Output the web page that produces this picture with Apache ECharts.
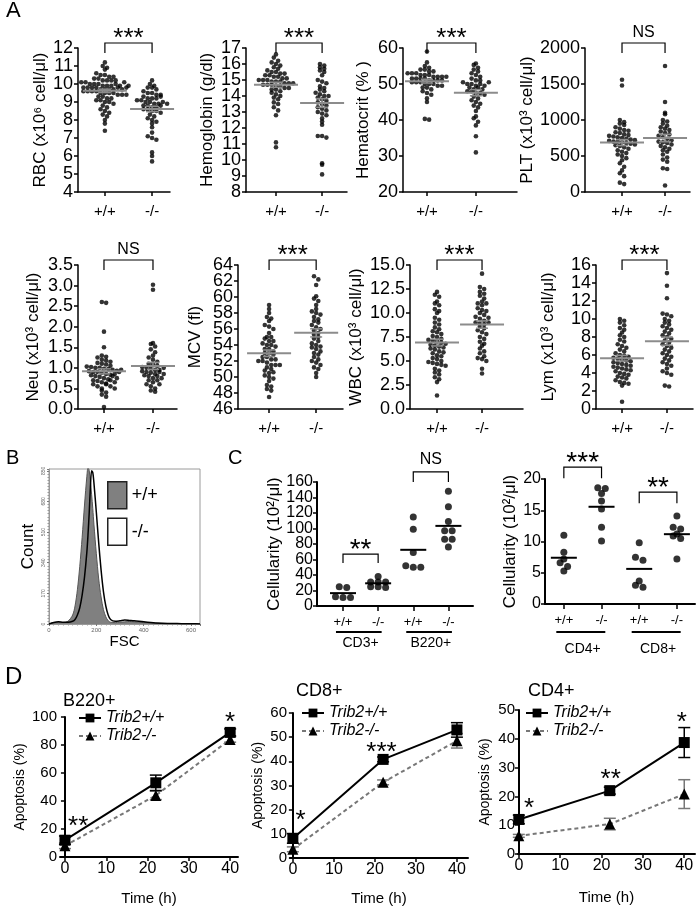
<!DOCTYPE html>
<html>
<head>
<meta charset="utf-8">
<title>Trib2 blood and lymphocyte parameters</title>
<script src="https://cdn.jsdelivr.net/npm/echarts@6/dist/echarts.min.js"></script>
<style>
  html, body { margin: 0; padding: 0; background: #fff; }
  #chart { width: 700px; height: 907px; }
</style>
</head>
<body>
<div id="chart"></div>
<script>
const FONT = '"Liberation Sans", Arial, Helvetica, sans-serif';

// ---------- A: blood counts, one value per mouse ----------
const genotypes = ['+/+', '-/-'];
const rbcWT = [11.2, 11.0, 10.9, 10.8, 10.6, 10.5, 10.5, 10.4, 10.4, 10.3, 10.3, 10.2, 10.2, 10.2, 10.1, 10.1, 10.0, 10.0, 10.0, 9.9, 9.9, 9.9, 9.8, 9.8, 9.8, 9.8, 9.7, 9.7, 9.7, 9.7, 9.6, 9.6, 9.6, 9.6, 9.5, 9.5, 9.5, 9.5, 9.4, 9.4, 9.4, 9.3, 9.3, 9.2, 9.2, 9.1, 9.1, 9.0, 9.0, 8.9, 8.8, 8.7, 8.6, 8.5, 8.4, 8.3, 8.2, 8.0, 7.8, 7.4, 10.0, 9.9, 9.8, 10.1, 9.7, 9.9, 10.2, 9.8];
const rbcKO = [10.2, 10.0, 9.9, 9.8, 9.8, 9.7, 9.6, 9.5, 9.5, 9.4, 9.4, 9.3, 9.2, 9.2, 9.1, 9.1, 9.0, 9.0, 8.9, 8.9, 8.8, 8.8, 8.7, 8.7, 8.6, 8.6, 8.5, 8.5, 8.4, 8.3, 8.2, 8.1, 8.0, 7.9, 7.8, 7.6, 7.3, 7.1, 7.0, 6.9, 6.2, 6.0, 5.7, 9.2, 9.0, 8.9, 9.3, 8.8];
const hgbWT = [16.6, 16.4, 16.2, 16.1, 16.0, 15.9, 15.8, 15.7, 15.6, 15.5, 15.5, 15.4, 15.4, 15.3, 15.3, 15.2, 15.2, 15.1, 15.1, 15.0, 15.0, 15.0, 14.9, 14.9, 14.9, 14.8, 14.8, 14.8, 14.7, 14.7, 14.7, 14.6, 14.6, 14.5, 14.5, 14.4, 14.4, 14.3, 14.2, 14.1, 14.0, 13.9, 13.8, 13.6, 13.5, 13.3, 13.1, 12.8, 11.1, 10.8];
const hgbKO = [16.0, 15.9, 15.8, 15.7, 15.6, 15.5, 15.3, 15.0, 14.9, 14.8, 14.6, 14.5, 14.4, 14.3, 14.2, 14.1, 14.0, 14.0, 13.9, 13.8, 13.7, 13.6, 13.5, 13.4, 13.3, 13.2, 13.1, 13.0, 12.9, 12.8, 12.6, 12.4, 12.2, 11.5, 11.5, 11.4, 9.8, 9.7, 9.1];
const hctWT = [59, 56, 55, 54.5, 54, 54, 53.5, 53.5, 53, 53, 53, 52.5, 52.5, 52.5, 52, 52, 52, 52, 51.5, 51.5, 51.5, 51.5, 51, 51, 51, 51, 50.5, 50.5, 50.5, 50, 50, 50, 49.5, 49.5, 49, 49, 48.5, 48, 47.5, 47, 46, 45, 40.3, 40.1];
const hctKO = [55.7, 55.3, 54.5, 54, 53.5, 53, 52.5, 52, 51.5, 51, 50.5, 50, 50, 49.5, 49, 48.5, 48, 48, 47.5, 47.5, 47, 46.5, 46, 45.5, 45, 44.5, 44, 43.5, 42.5, 41, 40.5, 39.5, 38.5, 35.5, 31, 49, 50, 48.5, 51, 49.5, 50.5];
const pltWT = [1560, 1480, 1000, 970, 950, 930, 900, 880, 860, 850, 830, 820, 800, 790, 780, 770, 760, 750, 740, 730, 720, 710, 700, 700, 690, 680, 670, 660, 650, 640, 620, 600, 580, 560, 540, 520, 500, 470, 440, 400, 350, 300, 260, 220, 130, 110];
const pltKO = [1750, 1250, 1100, 1080, 1000, 980, 950, 920, 900, 880, 860, 840, 820, 800, 780, 760, 740, 720, 700, 690, 680, 660, 640, 620, 600, 580, 560, 520, 480, 450, 420, 330, 320, 90];
const neuWT = [2.6, 2.58, 1.88, 1.5, 1.3, 1.27, 1.25, 1.2, 1.18, 1.15, 1.12, 1.1, 1.08, 1.05, 1.03, 1.02, 1.0, 1.0, 0.98, 0.97, 0.95, 0.93, 0.92, 0.9, 0.9, 0.88, 0.85, 0.83, 0.82, 0.8, 0.78, 0.75, 0.72, 0.7, 0.68, 0.65, 0.62, 0.6, 0.55, 0.5, 0.45, 0.4, 0.35, 0.3, 0.05, 0.85, 0.8, 0.75, 0.7, 0.65, 0.6, 0.55, 0.5, 0.9, 0.95];
const neuKO = [3.02, 2.9, 1.6, 1.58, 1.52, 1.45, 1.38, 1.3, 1.25, 1.2, 1.15, 1.1, 1.08, 1.05, 1.02, 1.0, 0.98, 0.95, 0.92, 0.9, 0.88, 0.85, 0.82, 0.8, 0.75, 0.7, 0.65, 0.6, 0.55, 0.5, 0.45, 0.42, 0.9, 0.85, 0.8, 0.75, 0.7, 0.95, 1.0, 0.6];
const mcvWT = [59, 58.5, 58, 57.5, 57.3, 57, 56.5, 56.3, 56, 55.5, 55, 55, 54.8, 54.5, 54.5, 54.2, 54, 54, 53.8, 53.5, 53.5, 53.2, 53, 53, 52.8, 52.5, 52.5, 52.2, 52, 52, 51.8, 51.5, 51.5, 51.2, 51, 50.8, 50.5, 50.2, 50, 49.8, 49.5, 49, 48.8, 48.5, 48.3, 47.5, 51.5, 52.2, 50.6];
const mcvKO = [62.6, 62.2, 61.5, 60.1, 59.8, 59.5, 59, 58.5, 58.2, 58, 57.8, 57.5, 57.2, 57, 56.8, 56.5, 56.2, 56, 55.8, 55.5, 55.3, 55, 54.8, 54.5, 54.2, 54, 53.7, 53.5, 53.2, 53, 52.5, 52.2, 52, 51.8, 51.5, 51.2, 51, 50.5, 50, 53.8, 52.8];
const wbcWT = [12.2, 11.9, 11.7, 11.2, 11.0, 10.8, 10.4, 10.2, 10.0, 9.5, 9.3, 9.0, 8.8, 8.5, 8.3, 8.1, 8.0, 7.8, 7.6, 7.5, 7.3, 7.2, 7.1, 7.0, 6.9, 6.8, 6.7, 6.6, 6.5, 6.4, 6.3, 6.2, 6.0, 5.9, 5.8, 5.6, 5.5, 5.3, 5.2, 5.0, 4.9, 4.8, 4.7, 4.6, 4.5, 4.2, 4.0, 3.8, 3.6, 3.3, 3.1, 2.8, 1.4];
const wbcKO = [14.1, 12.7, 12.5, 12.2, 12.0, 11.8, 11.5, 11.2, 11.0, 10.8, 10.5, 10.3, 10.0, 9.8, 9.6, 9.4, 9.2, 9.0, 8.9, 8.8, 8.6, 8.4, 8.2, 8.0, 7.8, 7.5, 7.3, 7.0, 6.8, 6.6, 6.3, 6.0, 5.8, 5.5, 5.3, 5.2, 5.0, 4.2, 3.7, 9.5, 10.2, 9.0, 11.0];
const lymWT = [10.0, 9.8, 9.6, 9.3, 9.0, 8.8, 8.5, 8.2, 8.0, 7.7, 7.5, 7.2, 7.0, 6.8, 6.6, 6.4, 6.2, 6.0, 5.9, 5.8, 5.7, 5.6, 5.5, 5.4, 5.3, 5.2, 5.1, 5.0, 4.9, 4.8, 4.7, 4.6, 4.5, 4.4, 4.3, 4.2, 4.0, 3.9, 3.8, 3.6, 3.5, 3.4, 3.2, 3.0, 2.9, 2.8, 2.6, 0.8];
const lymKO = [15.1, 13.7, 12.3, 10.6, 10.5, 10.3, 10.0, 9.8, 9.6, 9.4, 9.2, 9.0, 8.8, 8.6, 8.4, 8.2, 8.0, 7.8, 7.6, 7.4, 7.2, 7.0, 6.8, 6.6, 6.4, 6.2, 6.0, 5.8, 5.6, 5.4, 5.2, 5.0, 4.8, 4.5, 4.2, 4.0, 3.8, 2.6, 2.5];
const namesA = ['RBC (x10⁶ cell/μl)', 'Hemoglobin (g/dl)', 'Hematocrit (% )', 'PLT (x10³ cell/μl)',
                'Neu (x10³ cell/μl)', 'MCV (fl)', 'WBC (x10³ cell/μl)', 'Lym (x10³ cell/μl)'];
const sigA = ['***', '***', '***', 'NS', 'NS', '***', '***', '***'];

// ---------- B: FSC histogram ----------
const fscBins    = [0, 20, 40, 60, 80, 100, 110, 120, 130, 140, 150, 160, 165, 170, 175, 180, 185, 190, 200, 210, 220, 230, 240, 250, 260, 280, 300, 320, 340, 360, 400, 450, 500, 560, 620, 638];
const fscCountWT = [0, 8, 10, 8, 15, 50, 100, 190, 320, 480, 660, 820, 870, 850, 790, 720, 640, 550, 390, 250, 150, 80, 40, 18, 10, 8, 10, 12, 14, 12, 8, 5, 3, 2, 1, 0];
const fscCountKO = [0, 8, 12, 10, 10, 15, 25, 50, 90, 160, 260, 400, 500, 620, 760, 850, 840, 780, 620, 450, 300, 180, 100, 50, 25, 15, 18, 22, 20, 18, 12, 6, 3, 2, 1, 0];
const fscLegend = ['+/+', '-/-'];

// ---------- C: cellularity ----------
const groupsCLeft = ['CD3+', 'B220+'];
const cd3WT  = [25, 24, 12, 11, 11];
const cd3KO  = [38, 31, 31, 31, 25, 25, 24];
const b220WT = [115, 99, 69, 52, 50, 50];
const b220KO = [148, 128, 109, 97, 97, 86, 86, 76];
const groupsCRight = ['CD4+', 'CD8+'];
const cd4WT = [11, 8.3, 7.2, 6.6, 6.0, 5.3];
const cd4KO = [18.6, 18.5, 17.7, 16.5, 15.2, 12.3, 10.1];
const cd8WT = [9.8, 7.5, 7.0, 3.7, 3.0, 2.7];
const cd8KO = [14.1, 12.3, 12.0, 11.2, 10.9, 10.5, 7.2];
const sigCLeft = ['**', 'NS'];
const sigCLeftAt = [67, 173];
const sigCRight = ['***', '**'];
const sigCRightAt = [21.9, 17.9];

// ---------- D: apoptosis time course ----------
const timeH = [0, 22, 40];
const timeTicks = [0, 10, 20, 30, 40];
const seriesD = ['Trib2+/+', 'Trib2-/-'];
const titlesD = ['B220+', 'CD8+', 'CD4+'];
const apoWT    = [[12, 53, 89], [8.1, 40.8, 53], [12, 22, 38.7]];
const apoWTErr = [[3, 5.5, 2.5], [2, 1, 3], [1.5, 1.2, 5.2]];
const apoKO    = [[8, 44, 84], [3.6, 31.3, 48.5], [6.3, 10.4, 20.8]];
const apoKOErr = [[2, 3, 2], [1, 1, 3], [0.5, 2, 5]];
const starsD = [
  [[3.2, 26, '**'], [40, 100, '*']],
  [[1.9, 17.8, '*'], [21.6, 46, '***']],
  [[2.5, 17.6, '*'], [22.2, 27.8, '**'], [39.4, 47.7, '*']]
];

// ---------- helpers ----------
const grids = [], xAxes = [], yAxes = [], series = [], titles = [], legends = [];

function addCartesian(box, xa, ya) {
  grids.push({ left: box[0], top: box[1], width: box[2], height: box[3] });
  const g = grids.length - 1;
  xAxes.push(Object.assign({ gridIndex: g, splitLine: { show: false } }, xa));
  yAxes.push(Object.assign({ gridIndex: g, splitLine: { show: false } }, ya));
  return { g: g, x: xAxes.length - 1, y: yAxes.length - 1 };
}

// crowded tick labels: every other one goes on a twin axis, so ECharts never
// sees two touching labels on the same axis and keeps them all
function splitYLabels(idx, box, range) {
  const vals = [];
  for (let v = range[0]; v <= range[1] + 1e-9; v += range[2]) vals.push(+v.toFixed(6));
  const spacing = box[3] / (vals.length - 1);
  if (spacing >= 17) return;
  const main = yAxes[idx.y];
  main.position = 'left';
  main.axisLabel.customValues = vals.filter((v, k) => k % 2 === 0);
  yAxes.push({
    gridIndex: idx.g, type: 'value', position: 'left', offset: 0,
    min: range[0], max: range[1], interval: range[2],
    axisLine: { show: false }, axisTick: { show: false }, splitLine: { show: false },
    axisLabel: Object.assign({}, main.axisLabel, { customValues: vals.filter((v, k) => k % 2 === 1) })
  });
}

const mean = a => a.reduce((s, v) => s + v, 0) / a.length;
const sem = a => {
  const m = mean(a);
  return Math.sqrt(a.reduce((s, v) => s + (v - m) * (v - m), 0) / (a.length - 1) / a.length);
};

// beeswarm: dots of similar value go side by side
function swarm(vals, center, bin, step, maxHalf) {
  const rows = new Map();
  vals.forEach(v => {
    const k = Math.round(v / bin);
    if (!rows.has(k)) rows.set(k, []);
    rows.get(k).push(v);
  });
  const pts = [];
  rows.forEach(row => {
    const n = row.length;
    const s = n > 1 ? Math.min(step, 2 * maxHalf / (n - 1)) : 0;
    row.forEach((v, i) => pts.push([center + (i - (n - 1) / 2) * s, v]));
  });
  return pts;
}

function line(x1, y1, x2, y2, color, w) {
  return { type: 'line', shape: { x1: x1, y1: y1, x2: x2, y2: y2 }, style: { stroke: color, lineWidth: w } };
}

function meanSeries(idx, groups, color, hw, withSem) {
  return {
    type: 'custom', xAxisIndex: idx.x, yAxisIndex: idx.y, z: 5, silent: true,
    data: groups.map((vals, i) => [i + 1, mean(vals), withSem ? sem(vals) : 0]),
    renderItem: (params, api) => {
      const c = api.value(0), m = api.value(1), s = api.value(2);
      const a = api.coord([c - hw, m]), b = api.coord([c + hw, m]);
      const kids = [line(a[0], a[1], b[0], b[1], color, 2)];
      if (s > 0) {
        const t = api.coord([c, m + s]), u = api.coord([c, m - s]);
        kids.push(line(t[0], t[1], u[0], u[1], color, 1.5));
        kids.push(line(t[0] - 6, t[1], t[0] + 6, t[1], color, 1.5));
        kids.push(line(u[0] - 6, u[1], u[0] + 6, u[1], color, 1.5));
      }
      return { type: 'group', children: kids };
    }
  };
}

function bracketSeries(idx, x1, x2, yVal, text, o) {
  const isStar = text.indexOf('*') >= 0;
  const fs = isStar ? o.starSize : 16;
  const gap = isStar ? o.starGap : o.nsGap;
  return {
    type: 'custom', xAxisIndex: idx.x, yAxisIndex: idx.y, z: 6, silent: true,
    data: [[x1, yVal, x2]],
    renderItem: (params, api) => {
      const p = api.coord([api.value(0), api.value(1)]);
      const q = api.coord([api.value(2), api.value(1)]);
      return { type: 'group', children: [
        { type: 'polyline', shape: { points: [[p[0], p[1] + o.leg], [p[0], p[1]], [q[0], q[1]], [q[0], q[1] + o.leg]] },
          style: { stroke: '#000', lineWidth: 1.2, fill: null } },
        { type: 'text', style: { text: text, x: (p[0] + q[0]) / 2, y: p[1] - gap, align: 'center', verticalAlign: 'middle',
          fill: '#000', font: fs + 'px ' + FONT } }
      ] };
    }
  };
}

function blackAxis(w) {
  return { show: true, lineStyle: { color: '#000', width: w } };
}

const allLabels = { showMinLabel: true, showMaxLabel: true, hideOverlap: false };

// ---------- A ----------
const layoutA = [
  { box: [78, 48, 92, 144],   x: [0.43, 2.38], y: [4, 12, 1],      dec: 0, nameGap: 29 },
  { box: [246, 48, 101, 144], x: [0.35, 2.54], y: [8, 17, 1],      dec: 0, nameGap: 30 },
  { box: [403, 48, 114, 144], x: [0.51, 2.84], y: [20, 60, 10],    dec: 0, nameGap: 31 },
  { box: [585, 48, 105, 144], x: [0.14, 2.58], y: [0, 2000, 500],  dec: 0, nameGap: 46 },
  { box: [78, 265, 99, 144],  x: [0.47, 2.49], y: [0, 3.5, 0.5],   dec: 1, nameGap: 36 },
  { box: [238, 265, 105, 144], x: [0.34, 2.57], y: [46, 64, 2],    dec: 0, nameGap: 34 },
  { box: [410, 265, 113, 144], x: [0.4, 2.91], y: [0, 15, 2.5],    dec: 1, nameGap: 45 },
  { box: [596, 265, 97, 144], x: [0.42, 2.58], y: [0, 16, 2],      dec: 0, nameGap: 39 }
];
const groupsA = [[rbcWT, rbcKO], [hgbWT, hgbKO], [hctWT, hctKO], [pltWT, pltKO],
                 [neuWT, neuKO], [mcvWT, mcvKO], [wbcWT, wbcKO], [lymWT, lymKO]];

layoutA.forEach((L, i) => {
  const idx = addCartesian(L.box, {
    type: 'value', min: L.x[0], max: L.x[1],
    axisLine: blackAxis(1.5),
    axisTick: { show: true, customValues: [1, 2], length: 4, lineStyle: { color: '#000', width: 1.5 } },
    axisLabel: { customValues: [1, 2], formatter: v => genotypes[Math.round(v) - 1], fontSize: 15, color: '#000', margin: 12, fontFamily: FONT }
  }, {
    type: 'value', min: L.y[0], max: L.y[1], interval: L.y[2],
    axisLine: blackAxis(1.5),
    axisTick: { show: true, length: 4, lineStyle: { color: '#000', width: 1.5 } },
    axisLabel: Object.assign({ fontSize: 18, color: '#000', margin: 5, fontFamily: FONT, formatter: v => v.toFixed(L.dec) }, allLabels),
    name: namesA[i], nameLocation: 'middle', nameGap: L.nameGap,
    nameTextStyle: { fontSize: 17, color: '#000', fontFamily: FONT }
  });
  splitYLabels(idx, L.box, L.y);
  const pxY = (L.y[1] - L.y[0]) / L.box[3];
  const pxX = (L.x[1] - L.x[0]) / L.box[2];
  groupsA[i].forEach((vals, k) => {
    series.push({
      type: 'scatter', xAxisIndex: idx.x, yAxisIndex: idx.y, silent: true,
      symbolSize: 4.6, itemStyle: { color: '#000' },
      data: swarm(vals, k + 1, 4.5 * pxY, 4.3 * pxX, 27 * pxX)
    });
  });
  series.push(meanSeries(idx, groupsA[i], '#8c8c8c', 22 * pxX, true));
  series.push(bracketSeries(idx, 1, 2, L.y[1] + 5 * pxY, sigA[i], { leg: 10, starSize: 26, starGap: 4, nsGap: 10 }));
});

// ---------- B ----------
const bIdx = addCartesian([49, 469, 151, 155], {
  type: 'value', min: 0, max: 638, interval: 200,
  axisLine: { show: true, lineStyle: { color: '#999', width: 1 } },
  axisTick: { show: true, length: 2, lineStyle: { color: '#777' } },
  minorTick: { show: true, splitNumber: 10, length: 1.5, lineStyle: { color: '#999' } },
  axisLabel: { fontSize: 6, color: '#666', margin: 3, showMaxLabel: false },
  name: 'FSC', nameLocation: 'middle', nameGap: 8, nameTextStyle: { fontSize: 15, color: '#000', fontFamily: FONT }
}, {
  type: 'value', min: 0, max: 860, interval: 170,
  axisLine: { show: true, lineStyle: { color: '#999', width: 1 } },
  axisTick: { show: true, length: 2, lineStyle: { color: '#777' } },
  minorTick: { show: true, splitNumber: 10, length: 1.5, lineStyle: { color: '#999' } },
  axisLabel: { fontSize: 5, color: '#666', margin: 3, rotate: 90, showMaxLabel: false },
  name: 'Count', nameLocation: 'middle', nameGap: 12, nameTextStyle: { fontSize: 17, color: '#000', fontFamily: FONT }
});
Object.assign(grids[bIdx.g], { show: true, borderColor: '#9a9a9a', borderWidth: 1 });
const fscWT = fscBins.map((x, i) => [x, fscCountWT[i]]);
const fscKO = fscBins.map((x, i) => [x, fscCountKO[i]]);
series.push(
  { type: 'line', name: fscLegend[1], xAxisIndex: bIdx.x, yAxisIndex: bIdx.y, data: fscKO, smooth: 0.3, symbol: 'none', silent: true,
    lineStyle: { opacity: 0 }, areaStyle: { color: '#fff', opacity: 1 }, z: 2 },
  { type: 'line', name: fscLegend[0], xAxisIndex: bIdx.x, yAxisIndex: bIdx.y, data: fscWT, smooth: 0.3, symbol: 'none', silent: true,
    lineStyle: { color: '#555', width: 1 }, areaStyle: { color: '#808080', opacity: 1 }, z: 3 },
  { type: 'line', name: fscLegend[1], xAxisIndex: bIdx.x, yAxisIndex: bIdx.y, data: fscKO, smooth: 0.3, symbol: 'none', silent: true,
    lineStyle: { color: '#000', width: 1.5 }, z: 4 }
);
legends.push({
  orient: 'vertical', left: 107, top: 481, itemWidth: 19, itemHeight: 27, itemGap: 8, padding: 0, selectedMode: false,
  textStyle: { fontSize: 18, color: '#000', fontFamily: FONT },
  data: [
    { name: fscLegend[0], icon: 'rect', itemStyle: { color: '#808080', borderColor: '#222', borderWidth: 1.5 } },
    { name: fscLegend[1], icon: 'rect', itemStyle: { color: '#fff', borderColor: '#222', borderWidth: 1.5 } }
  ]
});

// ---------- C ----------
const layoutC = [
  { box: [317, 482, 156, 124], x: [0.26, 4.7], y: [0, 160, 20], nameGap: 31, groupOffset: 22, under: 26,
    groups: [cd3WT, cd3KO, b220WT, b220KO], names: groupsCLeft, sig: sigCLeft, sigAt: sigCLeftAt, legs: [9, 10] },
  { box: [545, 479, 150, 125], x: [0.5, 4.48], y: [0, 20, 5], nameGap: 26, groupOffset: 30, under: 28,
    groups: [cd4WT, cd4KO, cd8WT, cd8KO], names: groupsCRight, sig: sigCRight, sigAt: sigCRightAt, legs: [11, 11] }
];
layoutC.forEach(L => {
  const idx = addCartesian(L.box, {
    type: 'value', min: L.x[0], max: L.x[1],
    axisLine: blackAxis(2),
    axisTick: { show: true, customValues: [1, 2, 3, 4], length: 5, lineStyle: { color: '#000', width: 1.5 } },
    axisLabel: { customValues: [1, 2, 3, 4], formatter: v => genotypes[(Math.round(v) - 1) % 2], fontSize: 13, color: '#000', margin: 10, fontFamily: FONT }
  }, {
    type: 'value', min: L.y[0], max: L.y[1], interval: L.y[2],
    axisLine: blackAxis(2),
    axisTick: { show: true, length: 4, lineStyle: { color: '#000', width: 1.5 } },
    axisLabel: Object.assign({ fontSize: 16, color: '#000', margin: 4, fontFamily: FONT }, allLabels),
    name: 'Cellularity (10²/μl)', nameLocation: 'middle', nameGap: L.nameGap,
    nameTextStyle: { fontSize: 17, color: '#000', fontFamily: FONT }
  });
  splitYLabels(idx, L.box, L.y);
  // second bottom axis carrying the cell-type names
  xAxes.push({
    gridIndex: idx.g, type: 'value', min: L.x[0], max: L.x[1], position: 'bottom', offset: L.groupOffset,
    axisLine: { show: false }, axisTick: { show: false }, splitLine: { show: false },
    axisLabel: { customValues: [1.5, 3.5], formatter: v => L.names[v < 2.5 ? 0 : 1], fontSize: 14, color: '#000', margin: 8, fontFamily: FONT }
  });
  const pxY = (L.y[1] - L.y[0]) / L.box[3];
  const pxX = (L.x[1] - L.x[0]) / L.box[2];
  L.groups.forEach((vals, k) => {
    series.push({
      type: 'scatter', xAxisIndex: idx.x, yAxisIndex: idx.y, silent: true,
      symbolSize: 7, itemStyle: { color: '#000' },
      data: swarm(vals, k + 1, 6.5 * pxY, 7.5 * pxX, 12 * pxX)
    });
  });
  series.push(meanSeries(idx, L.groups, '#000', 13 * pxX, false));
  L.sig.forEach((s, j) => {
    series.push(bracketSeries(idx, 2 * j + 1, 2 * j + 2, L.sigAt[j], s, { leg: L.legs[j], starSize: 28, starGap: 4, nsGap: 12 }));
  });
  // underline of each cell-type pair
  series.push({
    type: 'custom', xAxisIndex: idx.x, yAxisIndex: idx.y, silent: true,
    data: [[0.8, L.y[0], 2.1], [2.8, L.y[0], 4.1]],
    renderItem: (params, api) => {
      const p = api.coord([api.value(0), api.value(1)]), q = api.coord([api.value(2), api.value(1)]);
      return line(p[0], p[1] + L.under, q[0], q[1] + L.under, '#000', 2);
    }
  });
});

// ---------- D ----------
const layoutD = [
  { box: [60, 717, 178, 142], x: [-1.2, 41.9], y: [0, 100, 20], nameGap: 33, timeGap: 34, legend: [78, 710], title: [63, 692] },
  { box: [290, 713, 178, 145], x: [-0.7, 42.7], y: [0, 60, 10], nameGap: 25, timeGap: 33, legend: [301, 705], title: [296, 682] },
  { box: [518, 710, 177, 144], x: [-0.2, 42.6], y: [0, 50, 10], nameGap: 26, timeGap: 36, legend: [525, 705], title: [528, 682] }
];
layoutD.forEach((L, i) => {
  const idx = addCartesian(L.box, {
    type: 'value', min: L.x[0], max: L.x[1],
    axisLine: blackAxis(2),
    axisTick: { show: true, customValues: timeTicks, length: 4, lineStyle: { color: '#000', width: 1.5 } },
    axisLabel: { customValues: timeTicks, fontSize: 16, color: '#000', margin: 4, fontFamily: FONT },
    name: 'Time (h)', nameLocation: 'middle', nameGap: L.timeGap, nameTextStyle: { fontSize: 15, color: '#000', fontFamily: FONT }
  }, {
    type: 'value', min: L.y[0], max: L.y[1], interval: L.y[2],
    axisLine: blackAxis(2),
    axisTick: { show: true, length: 4, lineStyle: { color: '#000', width: 1.5 } },
    axisLabel: Object.assign({ fontSize: 15, color: '#000', margin: 3, fontFamily: FONT }, allLabels),
    name: 'Apoptosis (%)', nameLocation: 'middle', nameGap: L.nameGap, nameTextStyle: { fontSize: 14, color: '#000', fontFamily: FONT }
  });
  const errors = (vals, errs, color) => ({
    type: 'custom', xAxisIndex: idx.x, yAxisIndex: idx.y, silent: true, z: 2,
    data: timeH.map((t, k) => [t, vals[k] - errs[k], vals[k] + errs[k]]),
    renderItem: (params, api) => {
      const lo = api.coord([api.value(0), api.value(1)]), hi = api.coord([api.value(0), api.value(2)]);
      return { type: 'group', children: [
        line(lo[0], lo[1], hi[0], hi[1], color, 1.5),
        line(lo[0] - 6, lo[1], lo[0] + 6, lo[1], color, 1.5),
        line(hi[0] - 6, hi[1], hi[0] + 6, hi[1], color, 1.5)
      ] };
    }
  });
  series.push(
    errors(apoKO[i], apoKOErr[i], '#777'),
    errors(apoWT[i], apoWTErr[i], '#000'),
    { type: 'line', name: seriesD[1], xAxisIndex: idx.x, yAxisIndex: idx.y, silent: true, z: 3,
      data: timeH.map((t, k) => [t, apoKO[i][k]]), symbol: 'triangle', symbolSize: 11,
      itemStyle: { color: '#000' }, lineStyle: { color: '#777', width: 2, type: [4, 3] } },
    { type: 'line', name: seriesD[0], xAxisIndex: idx.x, yAxisIndex: idx.y, silent: true, z: 4,
      data: timeH.map((t, k) => [t, apoWT[i][k]]), symbol: 'rect', symbolSize: 11,
      itemStyle: { color: '#000' }, lineStyle: { color: '#000', width: 2 } },
    { type: 'custom', xAxisIndex: idx.x, yAxisIndex: idx.y, silent: true, z: 6,
      data: starsD[i].map(s => [s[0], s[1]]),
      renderItem: (params, api) => {
        const p = api.coord([api.value(0), api.value(1)]);
        return { type: 'text', style: { text: starsD[i][params.dataIndex][2], x: p[0], y: p[1] + 6, align: 'center',
          verticalAlign: 'middle', fill: '#000', font: '26px ' + FONT } };
      } }
  );
  legends.push({
    orient: 'vertical', left: L.legend[0], top: L.legend[1], itemWidth: 22, itemHeight: 11, itemGap: 2, padding: 0,
    selectedMode: false, data: seriesD,
    textStyle: { fontSize: 16, fontStyle: 'italic', color: '#000', fontFamily: FONT }
  });
  titles.push({ text: titlesD[i], left: L.title[0], top: L.title[1], padding: 0,
    textStyle: { fontSize: 18, fontWeight: 'normal', color: '#000', fontFamily: FONT } });
});

// panel letters
[['A', 6, 0, 22], ['B', 6, 448, 20], ['C', 228, 448, 20], ['D', 5, 665, 24]].forEach(t => {
  titles.push({ text: t[0], left: t[1], top: t[2], padding: 0,
    textStyle: { fontSize: t[3], fontWeight: 'normal', color: '#000', fontFamily: FONT } });
});

const chart = echarts.init(document.getElementById('chart'), null, { renderer: 'canvas' });
chart.setOption({
  animation: false,
  backgroundColor: '#fff',
  textStyle: { fontFamily: FONT, color: '#000' },
  title: titles,
  legend: legends,
  grid: grids,
  xAxis: xAxes,
  yAxis: yAxes,
  series: series
});
</script>
</body>
</html>
